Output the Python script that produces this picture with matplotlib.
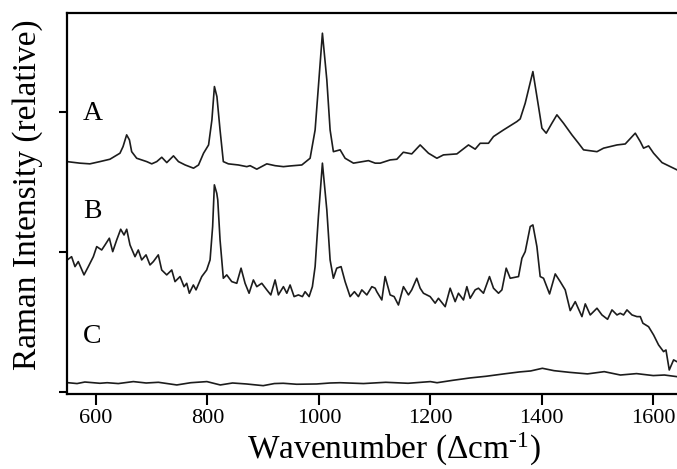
import numpy as np
import matplotlib
matplotlib.use("Agg")
import matplotlib.pyplot as plt

plt.rcParams['font.family'] = ['Liberation Serif', 'DejaVu Serif']
plt.rcParams['mathtext.fontset'] = 'custom'
plt.rcParams['mathtext.rm'] = 'Liberation Serif'
plt.rcParams['mathtext.it'] = 'Liberation Serif:italic'

# trace A (top spectrum)
wn_a = [548, 571, 589, 607, 625, 643, 648.5, 655, 660, 664, 673, 691, 700, 709, 718, 727, 739, 748, 760,
        775, 784, 793, 802, 808, 812.5, 817, 822.6, 828.5, 837.5, 855.5, 870.6, 876.5, 888.5, 906.5, 921.4,
        936.3, 948.3, 969.3, 984.2, 993.2, 999.1, 1006.3, 1014.2, 1020.1, 1026, 1038.1, 1047, 1062, 1088.9,
        1101, 1110, 1127.8, 1139.9, 1151.5, 1166.6, 1181.7, 1196.6, 1211.7, 1223.5, 1247.6, 1268.4, 1280.4,
        1289.4, 1304.3, 1313.3, 1331.2, 1355.3, 1361.2, 1370.2, 1384, 1394.1, 1400.2, 1407.9, 1418.1, 1427.1,
        1439, 1454, 1465.9, 1474.9, 1499, 1510.8, 1534.9, 1549.7, 1567.7, 1576.7, 1582.6, 1591.6, 1600.6,
        1615.7, 1642.6]
int_a = [1.645, 1.634, 1.629, 1.645, 1.662, 1.705, 1.752, 1.836, 1.800, 1.716, 1.669, 1.645, 1.629, 1.645,
         1.676, 1.638, 1.686, 1.645, 1.621, 1.598, 1.621, 1.705, 1.764, 1.943, 2.181, 2.109, 1.871, 1.645,
         1.629, 1.621, 1.609, 1.616, 1.591, 1.629, 1.616, 1.609, 1.614, 1.621, 1.669, 1.871, 2.181, 2.562,
         2.229, 1.871, 1.716, 1.729, 1.669, 1.634, 1.652, 1.634, 1.634, 1.657, 1.662, 1.712, 1.700, 1.764,
         1.705, 1.669, 1.693, 1.700, 1.764, 1.734, 1.776, 1.776, 1.824, 1.871, 1.931, 1.950, 2.062, 2.288,
         2.038, 1.884, 1.848, 1.919, 1.979, 1.919, 1.836, 1.776, 1.729, 1.716, 1.741, 1.764, 1.771, 1.848,
         1.788, 1.741, 1.757, 1.705, 1.638, 1.586]

# trace B (middle spectrum)
wn_b = [548.5, 556.2, 562.3, 568.2, 578.5, 586.2, 595.2, 601.3, 610.2, 616.2, 623.9, 630, 637.2, 644.3,
        650.3, 655.1, 661, 670, 675.9, 682, 689.8, 696.9, 702.9, 711.8, 717.9, 726.9, 735.9, 741.8, 750.8,
        758, 762.8, 767.5, 774.7, 779.5, 789.8, 798.6, 804.7, 809.3, 812.4, 816.7, 818.5, 822.6, 828.5,
        834.6, 843.6, 852.6, 860.3, 867.5, 874.7, 882.4, 888.5, 897.5, 906.5, 913.7, 921.4, 927.3, 936.3,
        942.4, 948.3, 955.5, 963.2, 970.4, 975.2, 982.4, 988.3, 993.2, 999.1, 1006.3, 1014.2, 1020.1, 1026,
        1032, 1039.8, 1047, 1056, 1063.7, 1070.9, 1077, 1086, 1095, 1100.9, 1103.9, 1112.9, 1118.8, 1127.8,
        1135, 1142.7, 1151.7, 1160.7, 1166.6, 1175.6, 1181.7, 1187.6, 1199.6, 1208.6, 1214.5, 1226.6,
        1235.5, 1244.5, 1250.4, 1259.4, 1265.5, 1271.4, 1280.4, 1286.3, 1295.3, 1306.1, 1313.3, 1322.3,
        1328.4, 1336.1, 1343.3, 1358.2, 1364.3, 1370.2, 1379.2, 1384, 1391.2, 1397.1, 1403.1, 1413.9,
        1424.1, 1433, 1442, 1451, 1460, 1472, 1478, 1486.9, 1499, 1507.9, 1518, 1525.9, 1534.9, 1540.7,
        1546.7, 1552.8, 1561.8, 1570.7, 1576.7, 1581.4, 1591.6, 1600.6, 1609.5, 1618.5, 1622.8, 1628.7,
        1636.5, 1642.6]
int_b = [0.943, 0.966, 0.895, 0.931, 0.836, 0.895, 0.966, 1.038, 1.014, 1.050, 1.098, 1.002, 1.086, 1.162,
         1.121, 1.162, 1.050, 0.966, 1.014, 0.943, 0.979, 0.907, 0.931, 0.979, 0.871, 0.836, 0.871, 0.788,
         0.824, 0.752, 0.776, 0.705, 0.764, 0.729, 0.824, 0.871, 0.943, 1.181, 1.479, 1.419, 1.371, 1.086,
         0.812, 0.836, 0.788, 0.776, 0.884, 0.776, 0.705, 0.800, 0.752, 0.776, 0.729, 0.693, 0.800, 0.693,
         0.752, 0.705, 0.764, 0.681, 0.693, 0.681, 0.716, 0.681, 0.752, 0.895, 1.252, 1.634, 1.300, 0.943,
         0.812, 0.884, 0.895, 0.788, 0.681, 0.716, 0.681, 0.729, 0.693, 0.752, 0.741, 0.716, 0.657, 0.824,
         0.693, 0.681, 0.621, 0.752, 0.693, 0.729, 0.812, 0.741, 0.705, 0.681, 0.634, 0.669, 0.609, 0.741,
         0.645, 0.705, 0.657, 0.752, 0.669, 0.729, 0.741, 0.705, 0.824, 0.741, 0.705, 0.729, 0.884, 0.812,
         0.824, 0.955, 1.002, 1.181, 1.193, 1.038, 0.824, 0.812, 0.700, 0.843, 0.788, 0.729, 0.581, 0.645,
         0.538, 0.629, 0.550, 0.598, 0.550, 0.519, 0.586, 0.550, 0.562, 0.550, 0.586, 0.550, 0.538, 0.538,
         0.491, 0.466, 0.407, 0.336, 0.288, 0.300, 0.157, 0.229, 0.216]

# trace C (bottom spectrum)
wn_c = [550, 566, 580, 607, 620, 640, 667, 690, 712, 745, 770, 799, 823, 845, 870, 900, 920, 936, 960, 996,
        1020, 1038, 1080, 1120, 1160, 1200, 1212, 1240, 1271, 1300, 1332, 1360, 1380, 1401, 1422, 1450, 1482,
        1512, 1541, 1570, 1600, 1620, 1643]
int_c = [0.066, 0.060, 0.071, 0.062, 0.066, 0.060, 0.074, 0.064, 0.069, 0.050, 0.066, 0.074, 0.050, 0.064,
         0.057, 0.045, 0.060, 0.062, 0.055, 0.057, 0.064, 0.066, 0.060, 0.069, 0.062, 0.074, 0.066, 0.083,
         0.100, 0.112, 0.129, 0.143, 0.150, 0.169, 0.152, 0.140, 0.129, 0.145, 0.121, 0.131, 0.117, 0.121,
         0.109]

trace_names = ['A', 'B', 'C']
name_y = [1.986, 1.286, 0.393]

fig = plt.figure(figsize=(6.77, 4.69), dpi=100)
ax = fig.add_axes([0.099, 0.160, 0.901, 0.8125])

for wn, it in [(wn_a, int_a), (wn_b, int_b), (wn_c, int_c)]:
    ax.plot(wn, it, color='#1c1c1c', lw=1.2)

for name, yy in zip(trace_names, name_y):
    ax.text(577, yy, name, fontsize=20, va='center', ha='left')

ax.set_xlim(548, 1642.6)
ax.set_ylim(-0.0143, 2.707)
ax.set_xticks([600, 800, 1000, 1200, 1400, 1600])
ax.set_yticks([0, 1, 2])
ax.set_yticklabels([])
ax.tick_params(axis='x', direction='out', length=8, width=1.5, labelsize=16, pad=3)
ax.tick_params(axis='y', direction='out', length=6, width=1.5)
for s in ['left', 'bottom', 'top']:
    ax.spines[s].set_linewidth(1.6)
ax.spines['right'].set_visible(False)

ax.set_xlabel('Wavenumber (Δcm$^{\\mathregular{‐1}}$)', fontsize=24)
ax.xaxis.set_label_coords(0.536, -0.097)
ax.set_ylabel('Raman Intensity (relative)', fontsize=24)
ax.yaxis.set_label_coords(-0.04, 0.522)

fig.savefig('out.png', dpi=100)
